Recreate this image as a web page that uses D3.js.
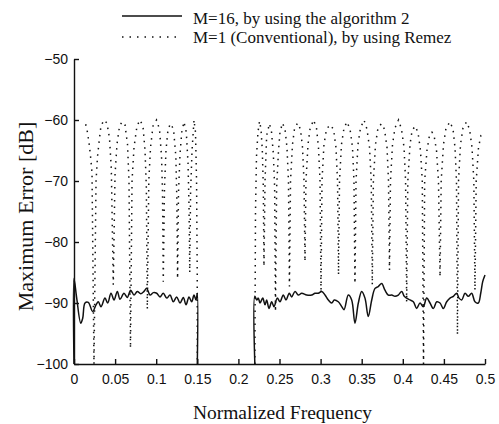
<!DOCTYPE html>
<html>
<head>
<meta charset="utf-8">
<script src="https://cdn.jsdelivr.net/npm/d3@7"></script>
<style>
  html, body { margin: 0; padding: 0; background: #fff; }
  svg { display: block; }
</style>
</head>
<body>
<svg id="chart" width="499" height="424"></svg>
<script>
// Axis ticks
const xTicks = [0, 0.05, 0.1, 0.15, 0.2, 0.25, 0.3, 0.35, 0.4, 0.45, 0.5];
const xTickLabels = ["0", "0.05", "0.1", "0.15", "0.2", "0.25", "0.3", "0.35", "0.4", "0.45", "0.5"];
const yTicks = [-50, -60, -70, -80, -90, -100];
const yTickLabels = ["\u221250", "\u221260", "\u221270", "\u221280", "\u221290", "\u2212100"];

const seriesNames = ["M=16, by using the algorithm 2", "M=1 (Conventional), by using Remez"];

// M=16 (algorithm 2): maximum error [dB] vs normalized frequency, first band
const alg2Band1 = [
  [0.0, -100], [0.0, -86.0], [0.0033, -89.2], [0.0082, -93.3], [0.0106, -92.5], [0.0134, -90.0],
  [0.0174, -89.9], [0.0227, -91.4], [0.0268, -90.3], [0.0296, -89.8], [0.0328, -90.6],
  [0.0377, -89.2], [0.0410, -90.0], [0.0450, -88.4], [0.0487, -89.5], [0.0527, -88.1],
  [0.0560, -89.4], [0.0608, -88.4], [0.0648, -89.1], [0.0690, -87.9], [0.0730, -88.7],
  [0.0770, -88.1], [0.0811, -88.5], [0.0852, -88.1], [0.0884, -87.6], [0.0925, -88.7],
  [0.0965, -88.3], [0.1006, -88.4], [0.1046, -89.0], [0.1086, -88.4], [0.1128, -89.2],
  [0.1168, -88.7], [0.1208, -89.8], [0.1249, -89.0], [0.1290, -90.0], [0.1330, -89.1],
  [0.1363, -90.3], [0.1399, -89.0], [0.1432, -89.8], [0.1460, -88.7], [0.1484, -89.5],
  [0.1500, -88.4], [0.1500, -100]
];

// M=16 (algorithm 2), second band
const alg2Band2 = [
  [0.2200, -100], [0.2200, -88.9], [0.2223, -89.5], [0.2242, -89.2], [0.2263, -90.0],
  [0.2296, -89.2], [0.2324, -90.3], [0.2344, -89.5], [0.2372, -90.9], [0.2405, -89.8],
  [0.2433, -90.6], [0.2473, -89.2], [0.2506, -89.8], [0.2546, -88.7], [0.2579, -89.5],
  [0.2619, -88.4], [0.2648, -89.0], [0.2689, -88.1], [0.2729, -88.7], [0.2770, -88.4],
  [0.2831, -88.7], [0.2892, -88.7], [0.2932, -88.4], [0.2972, -88.4], [0.3013, -88.1],
  [0.3054, -88.7], [0.3094, -89.5], [0.3135, -90.0], [0.3167, -89.5], [0.3215, -89.8],
  [0.3257, -90.6], [0.3285, -91.1], [0.3337, -88.7], [0.3378, -89.5], [0.3418, -93.3],
  [0.3459, -90.0], [0.3500, -88.1], [0.3540, -89.2], [0.3580, -92.2], [0.3622, -89.5],
  [0.3662, -87.6], [0.3702, -87.3], [0.3743, -86.8], [0.3783, -87.9], [0.3824, -88.7],
  [0.3865, -88.7], [0.3905, -88.9], [0.3945, -88.7], [0.3987, -88.1], [0.4018, -88.9],
  [0.4047, -89.2], [0.4088, -89.5], [0.4128, -89.8], [0.4169, -90.9], [0.4209, -90.0],
  [0.4249, -90.6], [0.4291, -89.2], [0.4331, -90.0], [0.4371, -90.9], [0.4413, -89.8],
  [0.4453, -90.0], [0.4493, -90.9], [0.4534, -89.8], [0.4574, -89.2], [0.4615, -88.9],
  [0.4656, -88.4], [0.4684, -89.2], [0.4717, -89.5], [0.4757, -88.4], [0.4797, -88.9],
  [0.4838, -88.4], [0.4878, -89.8], [0.4918, -90.0], [0.4948, -88.4], [0.4972, -86.5],
  [0.5000, -85.4]
];

// M=1 conventional (Remez) design, first band: equiripple peaks near -60 dB with deep nulls
const remezBand1 = [
  [0.0142, -60.7], [0.0162, -61.9], [0.0186, -64.1], [0.0203, -66.2], [0.0219, -68.6], [0.0243, -100],
  [0.0268, -70], [0.0286, -66], [0.0308, -63.2], [0.0328, -61], [0.0365, -60],
  [0.0401, -60.5], [0.0432, -63], [0.0454, -68], [0.0478, -87], [0.0499, -69],
  [0.0523, -64], [0.0554, -61], [0.0584, -60.3], [0.0620, -60.8], [0.0651, -64],
  [0.0669, -70], [0.0687, -97.4], [0.0706, -70], [0.0730, -64.5], [0.0766, -61],
  [0.0803, -60], [0.0839, -61], [0.0864, -65], [0.0880, -71], [0.0892, -91],
  [0.0910, -70], [0.0931, -64.5], [0.0961, -61], [0.1004, -60], [0.1040, -61.5],
  [0.1065, -66], [0.1077, -72], [0.1086, -86.5], [0.1101, -71], [0.1119, -65],
  [0.1144, -61.5], [0.1174, -60.6], [0.1211, -61.5], [0.1239, -66], [0.1251, -73],
  [0.1260, -86], [0.1271, -72], [0.1290, -65.5], [0.1311, -62], [0.1338, -60.3],
  [0.1366, -62], [0.1387, -67], [0.1399, -74], [0.1408, -85], [0.1418, -72],
  [0.1436, -65], [0.1460, -60], [0.1478, -62], [0.1491, -70], [0.1499, -85], [0.1500, -100]
];

// M=1 conventional (Remez) design, second band
const remezBand2 = [
  [0.2200, -100], [0.2208, -75], [0.2220, -66], [0.2238, -62], [0.2257, -60.2],
  [0.2275, -61.5], [0.2291, -65], [0.2303, -71], [0.2311, -84], [0.2324, -70],
  [0.2344, -62.5], [0.2378, -60.6], [0.2403, -62], [0.2425, -65.5], [0.2441, -71],
  [0.2451, -91.4], [0.2465, -71], [0.2488, -65], [0.2506, -62], [0.2536, -60.5],
  [0.2567, -61.5], [0.2591, -64.5], [0.2609, -70], [0.2621, -87.3], [0.2634, -70],
  [0.2658, -64], [0.2682, -61.5], [0.2719, -60.5], [0.2755, -61.5], [0.2780, -64.5],
  [0.2798, -70], [0.2810, -83.2], [0.2822, -70], [0.2847, -64], [0.2871, -61.5],
  [0.2914, -60], [0.2950, -61.3], [0.2974, -64.5], [0.2993, -70], [0.3005, -88.4],
  [0.3017, -70], [0.3041, -64], [0.3072, -61.5], [0.3114, -60.8], [0.3157, -61.5],
  [0.3187, -64.5], [0.3206, -70], [0.3218, -85.4], [0.3230, -70], [0.3254, -64],
  [0.3285, -61.3], [0.3321, -60.3], [0.3358, -61.5], [0.3388, -64.5], [0.3406, -70],
  [0.3418, -86.8], [0.3431, -70], [0.3455, -64], [0.3485, -61.3], [0.3528, -60],
  [0.3564, -61.5], [0.3595, -64.5], [0.3616, -70], [0.3629, -87], [0.3642, -70],
  [0.3668, -64], [0.3698, -61.3], [0.3741, -60.6], [0.3777, -61.5], [0.3808, -64.5],
  [0.3826, -70], [0.3838, -84.6], [0.3850, -70], [0.3875, -64], [0.3905, -61.3],
  [0.3948, -60], [0.3984, -61.5], [0.4015, -64.5], [0.4034, -70], [0.4047, -89.8],
  [0.4061, -70], [0.4088, -64], [0.4112, -61.8], [0.4148, -61], [0.4185, -62],
  [0.4215, -65], [0.4237, -70], [0.4252, -100], [0.4266, -70], [0.4294, -65],
  [0.4325, -62.5], [0.4355, -62], [0.4380, -62.5], [0.4410, -65], [0.4434, -70],
  [0.4453, -85.7], [0.4467, -70], [0.4495, -64], [0.4526, -61.3], [0.4574, -60.3],
  [0.4611, -61.5], [0.4635, -64.5], [0.4653, -70], [0.4665, -95.2], [0.4678, -70],
  [0.4702, -64], [0.4732, -61.3], [0.4775, -60.3], [0.4812, -61.5], [0.4842, -64.5],
  [0.4864, -70], [0.4878, -87.9], [0.4893, -70], [0.4921, -64.5], [0.4951, -62.5],
  [0.5000, -62]
];

const svg = d3.select("#chart");
const ink = "#111";
const sansFont = "'Liberation Sans', Arial, Helvetica, sans-serif";
const serifFont = "'Liberation Serif', 'Times New Roman', Times, serif";

const x = d3.scaleLinear().domain([0, 0.5]).range([74, 485]);
const y = d3.scaleLinear().domain([-100, -50]).range([364, 59]);

// Remez curves: dotted
const dotted = d3.line().x(d => x(d[0])).y(d => y(d[1])).curve(d3.curveLinear);
[remezBand1, remezBand2].forEach(band => {
  svg.append("path")
    .attr("d", dotted(band))
    .attr("fill", "none")
    .attr("stroke", ink)
    .attr("stroke-width", 1.5)
    .attr("stroke-dasharray", "1.5 5");
});

// Algorithm 2 curves: solid
const solid = d3.line().x(d => x(d[0])).y(d => y(d[1])).curve(d3.curveCatmullRom.alpha(0.5));
[alg2Band1, alg2Band2].forEach(band => {
  svg.append("path")
    .attr("d", solid(band))
    .attr("fill", "none")
    .attr("stroke", ink)
    .attr("stroke-width", 1.5)
    .attr("stroke-linejoin", "round");
});

// Axes with inward ticks
const xAxis = d3.axisBottom(x)
  .tickValues(xTicks)
  .tickFormat((d, i) => xTickLabels[i])
  .tickSizeInner(-5).tickSizeOuter(0).tickPadding(10);
const yAxis = d3.axisLeft(y)
  .tickValues(yTicks)
  .tickFormat((d, i) => yTickLabels[i])
  .tickSizeInner(-5).tickSizeOuter(0).tickPadding(6);

const gx = svg.append("g").attr("transform", `translate(0,${y(-100)})`).call(xAxis);
const gy = svg.append("g").attr("transform", `translate(${x(0)},0)`).call(yAxis);
[gx, gy].forEach(g => {
  g.select(".domain").attr("stroke", ink).attr("stroke-width", 1.4);
  g.selectAll(".tick line").attr("stroke", ink).attr("stroke-width", 1.4);
  g.selectAll(".tick text")
    .attr("fill", ink)
    .style("font-family", sansFont)
    .style("font-size", "14px");
});

// Axis titles
svg.append("text")
  .attr("x", (x(0) + x(0.5)) / 2 + 3)
  .attr("y", 419)
  .attr("text-anchor", "middle")
  .attr("fill", ink)
  .style("font-family", serifFont)
  .style("font-size", "19.5px")
  .text("Normalized Frequency");

svg.append("text")
  .attr("transform", `translate(33,${(y(-50) + y(-100)) / 2 + 5}) rotate(-90)`)
  .attr("text-anchor", "middle")
  .attr("fill", ink)
  .style("font-family", serifFont)
  .style("font-size", "22px")
  .text("Maximum Error [dB]");

// Legend
const legend = svg.append("g");
legend.append("line")
  .attr("x1", 122).attr("x2", 182).attr("y1", 16).attr("y2", 16)
  .attr("stroke", ink).attr("stroke-width", 1.5);
legend.append("line")
  .attr("x1", 122).attr("x2", 180).attr("y1", 37).attr("y2", 37)
  .attr("stroke", ink).attr("stroke-width", 1.5).attr("stroke-dasharray", "1.5 6");
legend.selectAll("text.entry")
  .data(seriesNames)
  .join("text")
  .attr("class", "entry")
  .attr("x", 193)
  .attr("y", (d, i) => 23.5 + i * 19)
  .attr("fill", ink)
  .style("font-family", serifFont)
  .style("font-size", "17px")
  .text(d => d);
</script>
</body>
</html>
